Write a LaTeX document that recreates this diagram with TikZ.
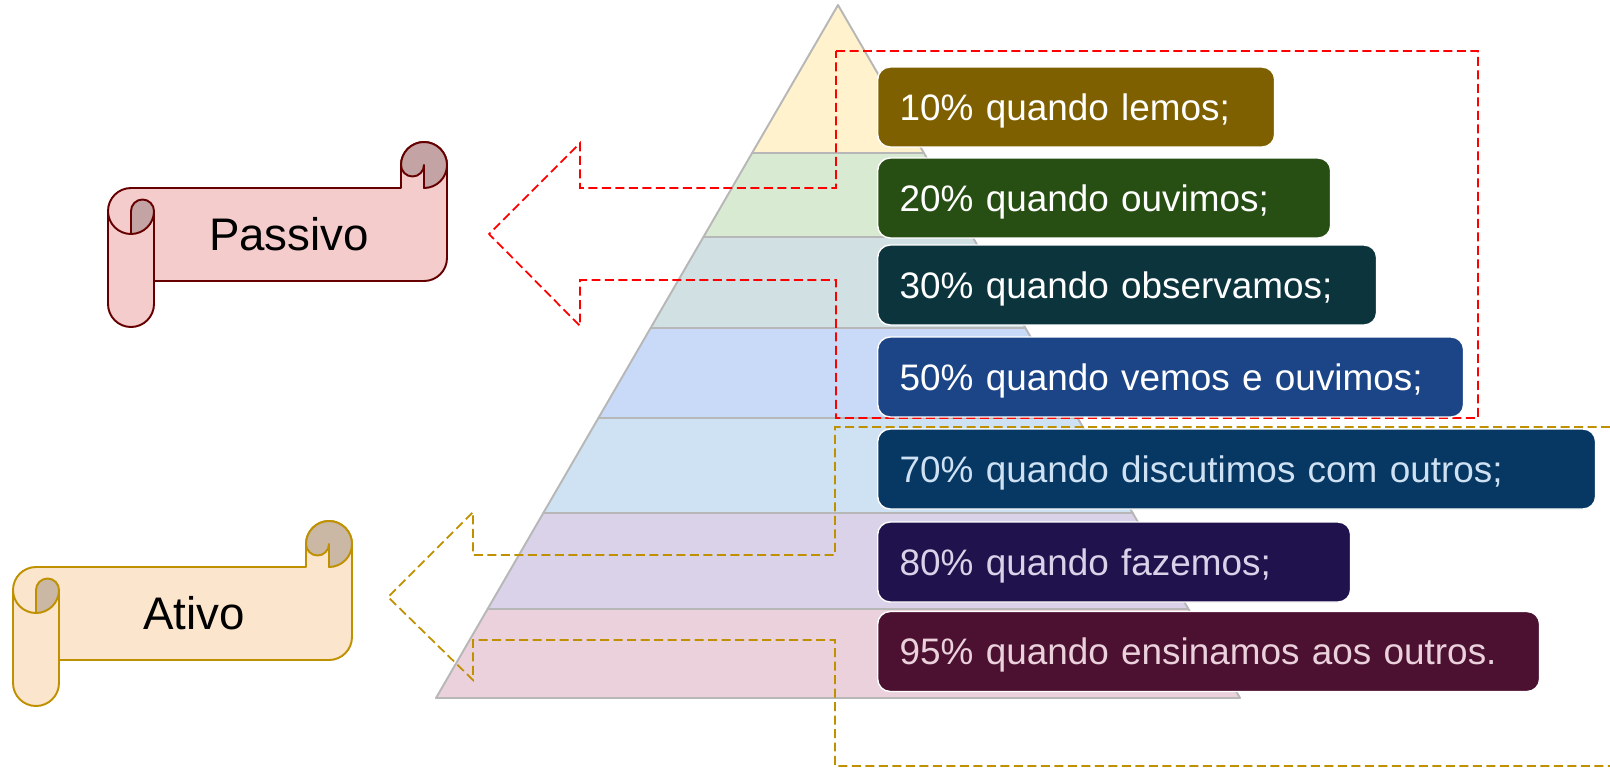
\documentclass[tikz,border=0pt]{standalone}
\usepackage{fontspec}
\setmainfont{Liberation Sans}
\definecolor{lay1}{HTML}{FFF2CC}
\definecolor{lay2}{HTML}{D9EAD3}
\definecolor{lay3}{HTML}{D0E0E3}
\definecolor{lay4}{HTML}{C9DAF8}
\definecolor{lay5}{HTML}{CFE2F3}
\definecolor{lay6}{HTML}{D9D2E9}
\definecolor{lay7}{HTML}{EAD1DC}
\definecolor{box1}{HTML}{7F6000}
\definecolor{box2}{HTML}{274E13}
\definecolor{box3}{HTML}{0C343D}
\definecolor{box4}{HTML}{1C4587}
\definecolor{box5}{HTML}{073763}
\definecolor{box6}{HTML}{20124D}
\definecolor{box7}{HTML}{4C1130}
\definecolor{pyrline}{HTML}{B7B7B7}
\definecolor{pasfill}{HTML}{F4CCCC}
\definecolor{pasdark}{HTML}{C3A3A3}
\definecolor{pasline}{HTML}{660000}
\definecolor{atifill}{HTML}{FCE5CD}
\definecolor{atidark}{HTML}{CAB7A4}
\definecolor{atiline}{HTML}{BF9000}
\definecolor{redline}{HTML}{FF0000}

\begin{document}
\begin{tikzpicture}[x=0.02cm,y=0.02cm,
   levelbox/.style={draw=white,line width=0.8pt,rounded corners=0.25cm,anchor=west,
     minimum height=1.6cm,inner xsep=0.44cm,align=left,text height=18pt,text depth=3pt,
     font=\fontsize{21}{25}\selectfont},
   callout/.style={line width=1pt,dash pattern=on 0.18cm off 0.09cm},
   scrolltext/.style={font=\fontsize{26}{31}\selectfont}]
   \useasboundingbox (0,0) rectangle (1610,-768);
   % pyramid
   \begin{scope}[draw=pyrline,line width=1.1pt,line join=round]
    \filldraw[fill=lay1] (838,-5) -- (923.9,-153) -- (752.1,-153) -- cycle;
    \filldraw[fill=lay2] (752.1,-153) -- (923.9,-153) -- (972.6,-237) -- (703.4,-237) -- cycle;
    \filldraw[fill=lay3] (703.4,-237) -- (972.6,-237) -- (1025.4,-328) -- (650.6,-328) -- cycle;
    \filldraw[fill=lay4] (650.6,-328) -- (1025.4,-328) -- (1077.6,-418) -- (598.4,-418) -- cycle;
    \filldraw[fill=lay5] (598.4,-418) -- (1077.6,-418) -- (1132.7,-513) -- (543.3,-513) -- cycle;
    \filldraw[fill=lay6] (543.3,-513) -- (1132.7,-513) -- (1188.4,-609) -- (487.6,-609) -- cycle;
    \filldraw[fill=lay7] (487.6,-609) -- (1188.4,-609) -- (1240,-698) -- (436,-698) -- cycle;
   \end{scope}
   % dashed callouts
   \draw[callout,redline] (836,-51) -- (1478,-51) -- (1478,-418) -- (836,-418) -- (836,-280)
     -- (580,-280) -- (580,-326) -- (489,-234) -- (580,-143) -- (580,-188) -- (836,-188) -- cycle;
   \draw[callout,atiline] (1610,-427) -- (835,-427) -- (835,-555) -- (473,-555) -- (473,-512)
     -- (388,-597) -- (473,-680) -- (473,-640) -- (835,-640) -- (835,-766) -- (1610,-766);
   % levels
   \node[levelbox,fill=box1,text=white,text width=7.06cm] (lemos) at (877,-107) {10\% quando lemos;};
   \node[levelbox,fill=box2,text=white,text width=8.18cm] (ouvimos) at (877,-198) {20\% quando ouvimos;};
   \node[levelbox,fill=box3,text=white,text width=9.10cm] (observamos) at (877,-285) {30\% quando observamos;};
   \node[levelbox,fill=box4,text=white,text width=10.84cm] (vemos) at (877,-377) {50\% quando vemos e ouvimos;};
   \node[levelbox,fill=box5,text=lay5,text width=13.48cm] (discutimos) at (877,-469) {70\% quando discutimos com outros;};
   \node[levelbox,fill=box6,text=lay6,text width=8.58cm] (fazemos) at (877,-562) {80\% quando fazemos;};
   \node[levelbox,fill=box7,text=lay7,text width=12.36cm] (ensinamos) at (877,-651.5) {95\% quando ensinamos aos outros.};
   % scrolls
   \begin{scope}[shift={(108,-142)},fill=pasfill,draw=pasline,line width=1.1pt,line join=round]
    \filldraw (23,-46) -- (293,-46) -- (293,-23) arc[start angle=180,end angle=0,radius=23]
      -- (339,-116) arc[start angle=0,end angle=-90,radius=23] -- (46,-139) -- (46,-162)
      arc[start angle=0,end angle=-180,radius=23] -- (0,-69) arc[start angle=180,end angle=90,radius=23] -- cycle;
    \filldraw[fill=pasdark] (293,-23) arc[start angle=180,end angle=0,radius=23]
      arc[start angle=0,end angle=-90,radius=23] -- (316,-23) arc[start angle=0,end angle=-180,radius=11.5] -- cycle;
    \filldraw[fill=pasdark] (23,-69) arc[start angle=180,end angle=0,radius=11.5]
      arc[start angle=0,end angle=-90,radius=23] -- cycle;
    \draw (0,-69) arc[start angle=180,end angle=270,radius=23];
    \draw (46,-69) -- (46,-139);
   \end{scope}
   \begin{scope}[shift={(13,-521)},fill=atifill,draw=atiline,line width=1.1pt,line join=round]
    \filldraw (23,-46) -- (293,-46) -- (293,-23) arc[start angle=180,end angle=0,radius=23]
      -- (339,-116) arc[start angle=0,end angle=-90,radius=23] -- (46,-139) -- (46,-162)
      arc[start angle=0,end angle=-180,radius=23] -- (0,-69) arc[start angle=180,end angle=90,radius=23] -- cycle;
    \filldraw[fill=atidark] (293,-23) arc[start angle=180,end angle=0,radius=23]
      arc[start angle=0,end angle=-90,radius=23] -- (316,-23) arc[start angle=0,end angle=-180,radius=11.5] -- cycle;
    \filldraw[fill=atidark] (23,-69) arc[start angle=180,end angle=0,radius=11.5]
      arc[start angle=0,end angle=-90,radius=23] -- cycle;
    \draw (0,-69) arc[start angle=180,end angle=270,radius=23];
    \draw (46,-69) -- (46,-139);
   \end{scope}
   \node[scrolltext] (passivo) at (289,-234.5) {Passivo};
   \node[scrolltext] (ativo) at (194,-613.5) {Ativo};
\end{tikzpicture}
\end{document}
